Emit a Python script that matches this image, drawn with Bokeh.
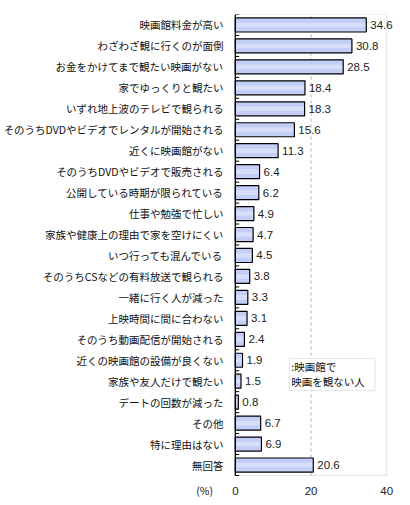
from bokeh.plotting import figure
from bokeh.models import ColumnDataSource, Range1d, FixedTicker, BoxAnnotation, Label
from bokeh.core.properties import value
from bokeh.embed import file_html
from bokeh.resources import INLINE

categories = ["映画館料金が高い", "わざわざ観に行くのが面倒", "お金をかけてまで観たい映画がない",
              "家でゆっくりと観たい", "いずれ地上波のテレビで観られる",
              "そのうちDVDやビデオでレンタルが開始される", "近くに映画館がない",
              "そのうちDVDやビデオで販売される", "公開している時期が限られている",
              "仕事や勉強で忙しい", "家族や健康上の理由で家を空けにくい", "いつ行っても混んでいる",
              "そのうちCSなどの有料放送で観られる", "一緒に行く人が減った", "上映時間に間に合わない",
              "そのうち動画配信が開始される", "近くの映画館の設備が良くない", "家族や友人だけで観たい",
              "デートの回数が減った", "その他", "特に理由はない", "無回答"]
values = [34.6, 30.8, 28.5, 18.4, 18.3, 15.6, 11.3, 6.4, 6.2, 4.9, 4.7, 4.5, 3.8, 3.3, 3.1,
          2.4, 1.9, 1.5, 0.8, 6.7, 6.9, 20.6]
x_ticks = [0, 20, 40]
legend_lines = [":映画館で", " 映画を観ない人"]
unit_label = "(%)"

JP = "Noto Sans CJK JP"
n = len(categories)
pos = [n - 1 - i for i in range(n)]

# geometry (pixels)
W, H = 394, 497
frame_left = 224
zero_px, max_px = 230, 386            # x = 0 .. 40
top_px, bottom_px = 14, 475           # category area
row_px = (bottom_px - top_px) / n
xmax = x_ticks[-1]
ppu = (max_px - zero_px) / xmax
x_start = -(zero_px - frame_left) / ppu
x_end = xmax + (W - max_px) / ppu
y_start = -0.5 - (H - bottom_px) / row_px
label_row = -0.5 - (490 - bottom_px) / row_px
tick_len = 4 / ppu

src = ColumnDataSource(dict(y=pos, v=values, lbl=[f"{v:.1f}" for v in values]))
xsrc = ColumnDataSource(dict(x=x_ticks, y=[label_row] * len(x_ticks), t=[str(t) for t in x_ticks]))
bnd = [k + 0.5 for k in range(-1, n)]
tsrc = ColumnDataSource(dict(y=bnd, x0=[0] * len(bnd), x1=[tick_len] * len(bnd)))

p = figure(width=W, height=H, output_backend="svg", toolbar_location=None,
           x_range=Range1d(x_start, x_end), y_range=Range1d(y_start, n - 0.5),
           x_axis_location=None,
           min_border_left=frame_left, min_border_right=0, min_border_top=top_px, min_border_bottom=0)
p.outline_line_color = None
p.background_fill_color = "white"
p.border_fill_color = "white"
p.xgrid.grid_line_color = None
p.ygrid.grid_line_color = None

# plot-area border
p.add_layout(BoxAnnotation(left=0, right=xmax, bottom=-0.5, top=n - 0.5, level="underlay",
                           fill_alpha=0, line_color="#a0a0a0", line_width=1))
# grid line at 20
mid = x_ticks[1:-1]
p.segment(x0=mid, x1=mid, y0=[-0.5] * len(mid), y1=[n - 0.5] * len(mid),
          line_color="#b0b0b0", line_dash="3 3", line_width=1)

p.hbar(y="y", right="v", left=0, height=0.67, source=src,
       fill_color="#c2cef5", line_color=None)
p.hbar(y="y", right="v", left=0, height=0.22, source=src,
       fill_color="#dfe6fb", fill_alpha=0.7, line_color=None)
p.hbar(y="y", right="v", left=0, height=0.67, source=src,
       fill_alpha=0, line_color="black", line_width=1.2)

# axis line at x = 0 and inward ticks at category boundaries
p.segment(x0=[0], x1=[0], y0=[-0.5], y1=[n - 0.5], line_color="black", line_width=1.3)
p.segment(x0="x0", x1="x1", y0="y", y1="y", source=tsrc, line_color="black", line_width=1)

p.text(x="v", y="y", text="lbl", source=src, x_offset=4, text_baseline="middle",
       text_font=value("Liberation Sans"), text_font_size="11.5px", text_color="#222222")

# x tick labels
p.text(x="x", y="y", text="t", source=xsrc, text_align="center", text_baseline="middle",
       text_font=value("Liberation Sans"), text_font_size="11.5px", text_color="#222222")

# y axis (category labels + unit label)
ya = p.yaxis[0]
ya.ticker = FixedTicker(ticks=pos + [label_row])
overrides = {pp: c for pp, c in zip(pos, categories)}
overrides[label_row] = unit_label + "\u3000"
ya.major_label_overrides = overrides
ya.major_tick_line_color = None
ya.minor_tick_line_color = None
ya.axis_line_color = None
ya.major_label_standoff = 0
ya.major_label_text_font = JP
ya.major_label_text_font_size = "10.5px"
ya.major_label_text_color = "#111111"

# legend box
p.add_layout(BoxAnnotation(left=14.3, right=36.9, top=5.08, bottom=3.55,
                           fill_color="white", fill_alpha=1, line_color="#a8a8a8", line_width=1))
p.add_layout(Label(x=14.8, y=4.7, text=legend_lines[0], text_baseline="middle",
                   text_font=JP, text_font_size="10.5px", text_color="#111111"))
p.add_layout(Label(x=14.8, y=3.98, text=legend_lines[1], text_baseline="middle",
                   text_font=JP, text_font_size="10.5px", text_color="#111111"))

open("out.html", "w").write(file_html(p, INLINE))
